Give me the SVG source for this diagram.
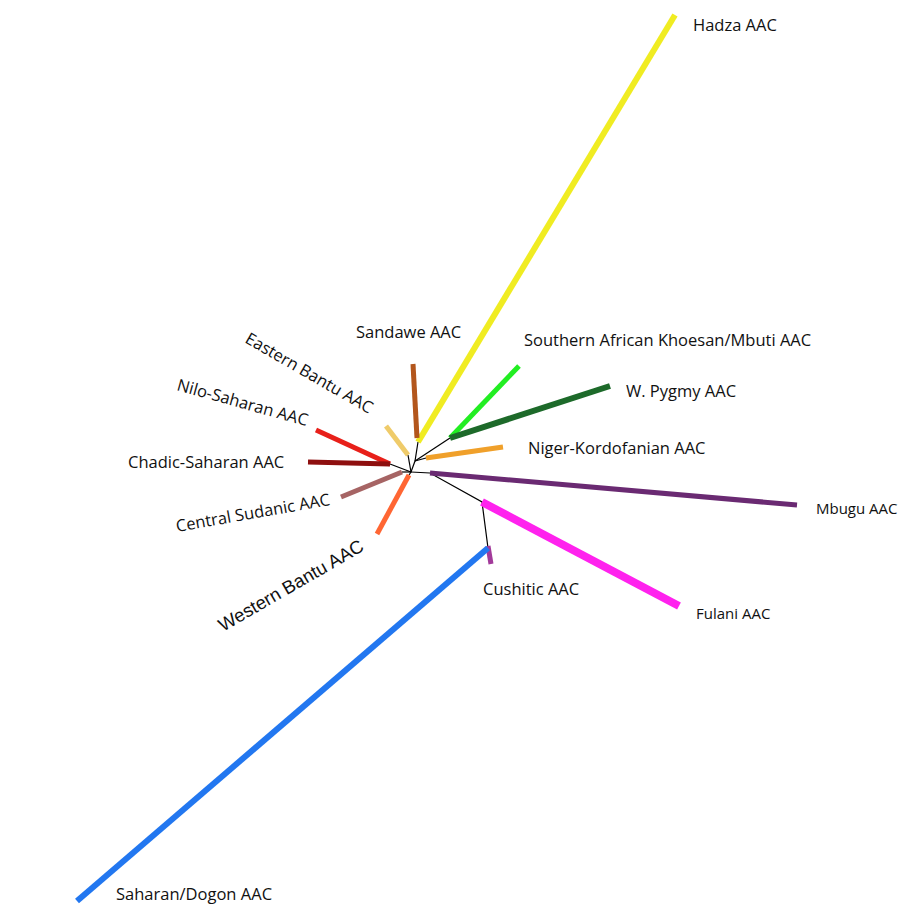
<svg xmlns="http://www.w3.org/2000/svg" width="908" height="912" viewBox="0 0 908 912">
<style>
.t{font-family:"Open Sans","Liberation Sans",sans-serif;font-size:16.5px;fill:#111}
.s{font-size:15px}
.a{font-family:"Liberation Sans",Arial,sans-serif;font-size:18.5px}
.b{stroke-linecap:butt;fill:none}
.k{stroke:#000;stroke-width:1.2;fill:none}
</style>
<rect width="908" height="912" fill="#fff"/>
<g id="connectors">
<polyline class="k" points="390,464 411,472 415,461 418,442"/>
<polyline class="k" points="415,461 450,438"/>
<polyline class="k" points="415,461 426,458"/>
<polyline class="k" points="411,472 402,472"/>
<polyline class="k" points="411,472 409,475"/>
<polyline class="k" points="411,472 408,455"/>
<polyline class="k" points="411,472 430,473 482,502 488,548"/>
</g>
<g id="hadza"><line class="b" x1="418" y1="442" x2="675" y2="15" stroke="#f0ec22" stroke-width="6"/><text class="t" x="693" y="31">Hadza AAC</text></g>
<g id="sandawe"><line class="b" x1="413" y1="364" x2="417" y2="438" stroke="#b3561c" stroke-width="5"/><text class="t" x="356" y="338">Sandawe AAC</text></g>
<g id="eastern-bantu"><line class="b" x1="386" y1="426" x2="408" y2="455" stroke="#efcb6a" stroke-width="5"/><text class="t" transform="translate(244,342) rotate(30)">Eastern Bantu AAC</text></g>
<g id="nilo-saharan"><line class="b" x1="316" y1="430" x2="390" y2="464" stroke="#e8201a" stroke-width="5"/><text class="t" transform="translate(176,390) rotate(15.5)">Nilo-Saharan AAC</text></g>
<g id="chadic-saharan"><line class="b" x1="308" y1="462" x2="390" y2="464" stroke="#8e0f0f" stroke-width="5"/><text class="t" x="128" y="468">Chadic-Saharan AAC</text></g>
<g id="central-sudanic"><line class="b" x1="341" y1="497" x2="402" y2="472" stroke="#a66464" stroke-width="5"/><text class="t" transform="translate(177,532) rotate(-10)">Central Sudanic AAC</text></g>
<g id="western-bantu"><line class="b" x1="377" y1="534" x2="409" y2="475" stroke="#ff6633" stroke-width="5"/><text class="t a" transform="translate(223,632) rotate(-30)">Western Bantu AAC</text></g>
<g id="southern-african"><line class="b" x1="450" y1="438" x2="519" y2="366" stroke="#22ee22" stroke-width="5"/><text class="t" x="524" y="346">Southern African Khoesan/Mbuti AAC</text></g>
<g id="w-pygmy"><line class="b" x1="450" y1="438" x2="610" y2="386" stroke="#1d6a2a" stroke-width="6"/><text class="t" x="626" y="397">W. Pygmy AAC</text></g>
<g id="niger-kordofanian"><line class="b" x1="426" y1="458" x2="503" y2="447" stroke="#f0a02a" stroke-width="5"/><text class="t" x="528" y="454">Niger-Kordofanian AAC</text></g>
<g id="mbugu"><line class="b" x1="430" y1="473" x2="797" y2="505" stroke="#6a2a72" stroke-width="5"/><text class="t s" x="816" y="514">Mbugu AAC</text></g>
<g id="fulani"><line class="b" x1="482" y1="502" x2="679" y2="606" stroke="#ff22ee" stroke-width="8"/><text class="t s" x="696" y="619">Fulani AAC</text></g>
<g id="cushitic"><line class="b" x1="488" y1="546" x2="491" y2="564" stroke="#a23a9a" stroke-width="5"/><text class="t" x="483" y="595">Cushitic AAC</text></g>
<g id="saharan-dogon"><line class="b" x1="488" y1="548" x2="77" y2="901" stroke="#2277f0" stroke-width="6"/><text class="t" x="116" y="900">Saharan/Dogon AAC</text></g>
</svg>
